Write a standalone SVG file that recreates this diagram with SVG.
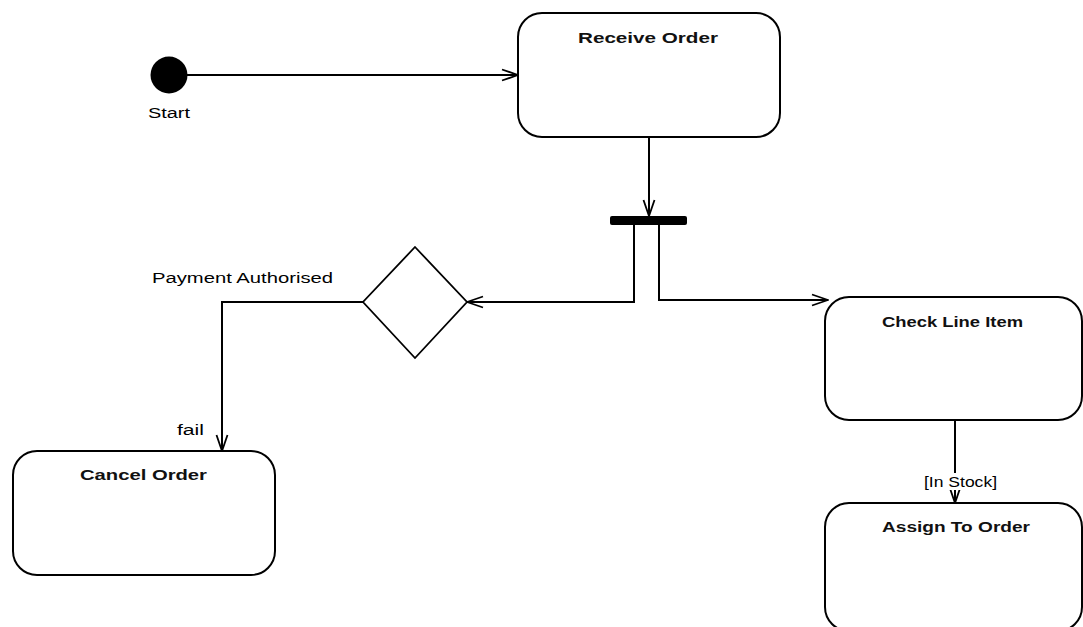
<svg xmlns="http://www.w3.org/2000/svg" width="1083" height="627" viewBox="0 0 1083 627">
  <style>
    .state { fill: #ffffff; stroke: #000000; stroke-width: 2; }
    .label { font-family: "Liberation Sans", Arial, sans-serif; font-size: 14px; fill: #000000; }
    .title { font-family: "Liberation Sans", Arial, sans-serif; font-size: 14px; font-weight: bold; fill: #111111; text-anchor: start; }
    .flow { fill: none; stroke: #000000; stroke-width: 2; }
  </style>
  <defs>
    <marker id="open-arrow" markerWidth="18" markerHeight="14" refX="17" refY="7" orient="auto" markerUnits="userSpaceOnUse">
      <path d="M1,1.5 L17,7 L1,12.5" fill="none" stroke="#000000" stroke-width="1.8"/>
    </marker>
  </defs>

  <rect width="1083" height="627" fill="#ffffff"/>

  <!-- initial pseudo-state -->
  <g id="start">
    <circle cx="169" cy="75" r="18.5" fill="#000000"/>
    <text class="label" x="148" y="118" textLength="42" lengthAdjust="spacingAndGlyphs">Start</text>
  </g>

  <g id="receive-order">
    <rect class="state" x="518" y="13" width="262" height="124" rx="24" ry="24"/>
    <text class="title" x="578" y="43" textLength="140" lengthAdjust="spacingAndGlyphs">Receive Order</text>
  </g>

  <!-- fork bar -->
  <g id="fork">
    <rect x="610" y="216" width="77" height="9" rx="2" fill="#000000"/>
  </g>

  <!-- decision -->
  <g id="decision">
    <polygon points="415,247 467,302 415,358 363,302" fill="#ffffff" stroke="#000000" stroke-width="1.8"/>
  </g>

  <g id="check-line-item">
    <rect class="state" x="825" y="297" width="257" height="123" rx="24" ry="24"/>
    <text class="title" x="882" y="327" textLength="141" lengthAdjust="spacingAndGlyphs">Check Line Item</text>
  </g>

  <g id="cancel-order">
    <rect class="state" x="13" y="451" width="262" height="124" rx="24" ry="24"/>
    <text class="title" x="80" y="480" textLength="127" lengthAdjust="spacingAndGlyphs">Cancel Order</text>
  </g>

  <g id="assign-to-order">
    <rect class="state" x="825" y="503" width="257" height="128" rx="24" ry="24"/>
    <text class="title" x="882" y="532" textLength="148" lengthAdjust="spacingAndGlyphs">Assign To Order</text>
  </g>

  <!-- transitions -->
  <g id="connectors">
    <line class="flow" x1="187" y1="75" x2="518" y2="75" marker-end="url(#open-arrow)"/>
    <line class="flow" x1="649" y1="137" x2="649" y2="216" marker-end="url(#open-arrow)"/>
    <polyline class="flow" points="634,225 634,302 467,302" marker-end="url(#open-arrow)"/>
    <polyline class="flow" points="659,225 659,300 828,300" marker-end="url(#open-arrow)"/>
    <polyline class="flow" points="363,302 222,302 222,451" marker-end="url(#open-arrow)"/>
    <line class="flow" x1="955" y1="420" x2="955" y2="503" marker-end="url(#open-arrow)"/>

    <text class="label" x="152" y="283" textLength="181" lengthAdjust="spacingAndGlyphs">Payment Authorised</text>
    <text class="label" x="177" y="435" textLength="27" lengthAdjust="spacingAndGlyphs">fail</text>
    <rect x="922" y="473" width="77" height="17" fill="#ffffff"/>
    <text class="label" x="924" y="487" textLength="73" lengthAdjust="spacingAndGlyphs">[In Stock]</text>
  </g>
</svg>
